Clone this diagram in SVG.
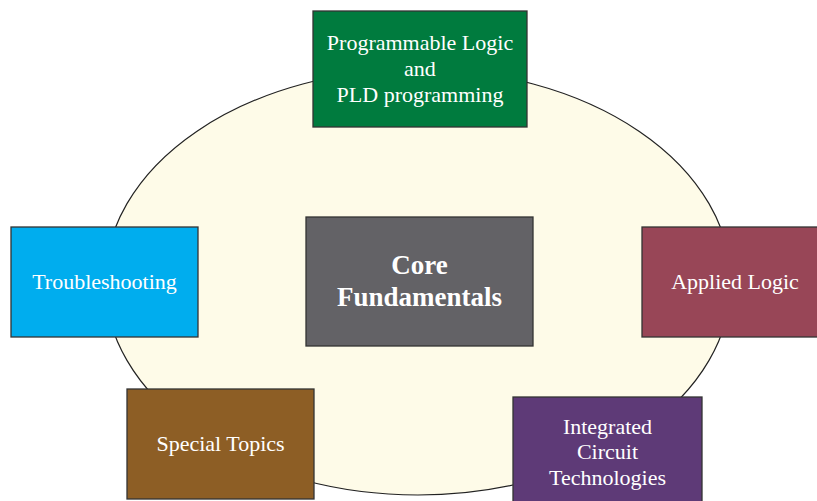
<svg xmlns="http://www.w3.org/2000/svg" width="817" height="501" viewBox="0 0 817 501">
<style>
.box{stroke:#333;stroke-width:1.3}
.t{font-family:"Liberation Serif","Times New Roman",serif;font-size:22px;fill:#fff;text-anchor:middle}
.b{font-weight:bold;font-size:27px}
</style>
<rect width="817" height="501" fill="#fff"/>
<g id="connectors"></g>
<g id="ellipse"><ellipse cx="418" cy="282" rx="313" ry="213" fill="#fefbe8" stroke="#222" stroke-width="1.2"/></g>
<g id="pld"><rect class="box" x="313" y="11" width="214" height="116" fill="#007b3e"/>
<text class="t" x="420" y="50">Programmable Logic</text><text class="t" x="420" y="76">and</text><text class="t" x="420" y="102">PLD programming</text></g>
<g id="troubleshooting"><rect class="box" x="11" y="227" width="187" height="110" fill="#00adee"/>
<text class="t" x="104.5" y="289">Troubleshooting</text></g>
<g id="applied"><rect class="box" x="642" y="227" width="180" height="110" fill="#984657"/>
<text class="t" x="735" y="289">Applied Logic</text></g>
<g id="core"><rect class="box" x="306" y="217" width="227" height="129" fill="#636266"/>
<text class="t b" x="419.5" y="274">Core</text><text class="t b" x="419.5" y="306">Fundamentals</text></g>
<g id="special"><rect class="box" x="127" y="389" width="187" height="110" fill="#8d5e25"/>
<text class="t" x="220.5" y="451">Special Topics</text></g>
<g id="ic"><rect class="box" x="513" y="397" width="189" height="110" fill="#5e3a77"/>
<text class="t" x="607.5" y="434">Integrated</text><text class="t" x="607.5" y="459">Circuit</text><text class="t" x="607.5" y="485">Technologies</text></g>
</svg>
